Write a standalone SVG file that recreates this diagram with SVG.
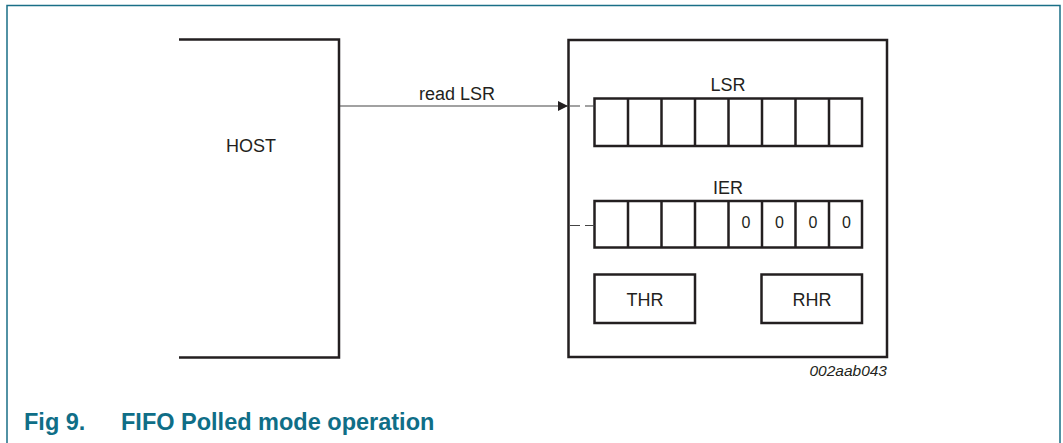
<svg xmlns="http://www.w3.org/2000/svg" width="1063" height="443" viewBox="0 0 1063 443">
<defs>
<style>
.t{font-family:"Liberation Sans",Arial,sans-serif;fill:#231f20}
.s{fill:none;stroke:#231f20;stroke-width:2.5}
.c{fill:#fff;stroke:#231f20;stroke-width:2.5}
.cap{font-family:"Liberation Sans",Arial,sans-serif;font-weight:bold;fill:#0f6e87;font-size:23.5px}
</style>
<marker id="ah" viewBox="0 0 10 10" refX="10" refY="5" markerWidth="10" markerHeight="10" markerUnits="userSpaceOnUse" orient="auto">
<path d="M0,0 L10,5 L0,10 z" fill="#231f20"/>
</marker>
</defs>
<rect width="1063" height="443" fill="#fff"/>
<path d="M7,443 V5.5 H1060 V443" fill="none" stroke="#1a6f87" stroke-width="1.5"/>

<g id="host">
<path class="s" d="M179,39.5 H339 V357.5 H179"/>
<text class="t" x="251" y="152" font-size="18" text-anchor="middle">HOST</text>
</g>

<g id="uart">
<rect class="s" x="568.5" y="40" width="318.5" height="317"/>
</g>

<g id="lsr">
<text class="t" x="728" y="91" font-size="18" text-anchor="middle">LSR</text>
<rect class="c" x="594.5" y="98.5" width="267.5" height="47.5"/>
<path class="s" d="M628,98.5V146M661.5,98.5V146M695,98.5V146M728.5,98.5V146M762,98.5V146M795.5,98.5V146M829,98.5V146"/>
</g>

<g id="ier">
<text class="t" x="728" y="193.5" font-size="18" text-anchor="middle">IER</text>
<rect class="c" x="594.5" y="201" width="267.5" height="46.5"/>
<path class="s" d="M628,201V247.5M661.5,201V247.5M695,201V247.5M728.5,201V247.5M762,201V247.5M795.5,201V247.5M829,201V247.5"/>
<g class="t" font-size="16" text-anchor="middle">
<text x="746" y="228">0</text>
<text x="779.5" y="228">0</text>
<text x="813" y="228">0</text>
<text x="846.5" y="228">0</text>
</g>
</g>

<g id="thr">
<rect class="c" x="594.5" y="274.5" width="100.5" height="48.5"/>
<text class="t" x="645" y="305.5" font-size="18" text-anchor="middle">THR</text>
</g>

<g id="rhr">
<rect class="c" x="761.5" y="274.5" width="100.5" height="48.5"/>
<text class="t" x="812" y="305.5" font-size="18" text-anchor="middle">RHR</text>
</g>

<g id="connectors">
<line x1="340" y1="106" x2="568" y2="106" stroke="#444" stroke-width="1.2" marker-end="url(#ah)"/>
<text class="t" x="457" y="100" font-size="18" text-anchor="middle">read LSR</text>
<path d="M570,106H580M585,106H594.5M570,225.5H580M585,225.5H594.5" stroke="#444" stroke-width="1.2" fill="none"/>
</g>

<text class="t" x="887" y="376" font-size="15.5" font-style="italic" text-anchor="end">002aab043</text>

<text class="cap" x="24" y="430">Fig 9.</text>
<text class="cap" x="121" y="430">FIFO Polled mode operation</text>
</svg>
